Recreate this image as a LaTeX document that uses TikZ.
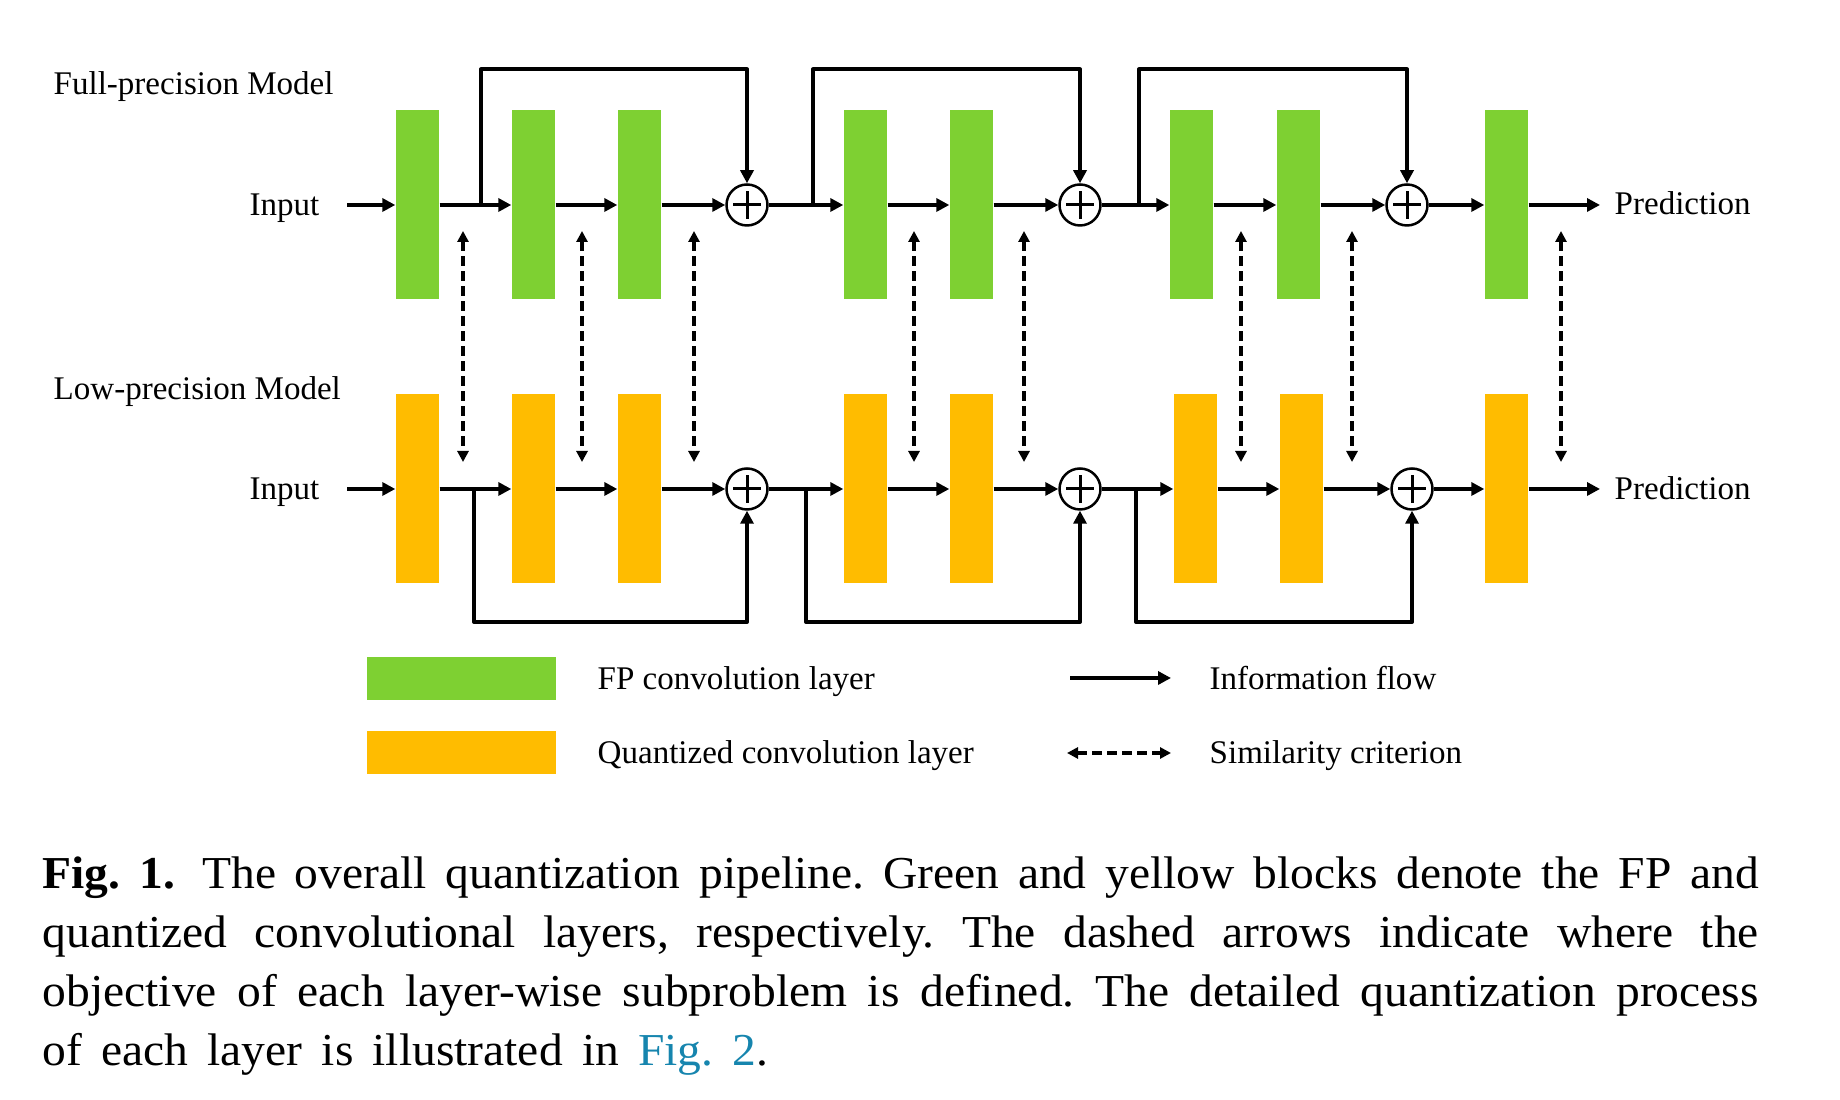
\documentclass[tikz,border=0pt]{standalone}
\usepackage{fontspec}
\setmainfont{Liberation Serif}
\newfontfamily\capfont[FakeStretch=1.04]{Liberation Serif}
\usetikzlibrary{arrows.meta}
\definecolor{fpgreen}{RGB}{126,208,50}
\definecolor{qyellow}{RGB}{255,188,0}
\definecolor{figblue}{RGB}{22,133,174}
\begin{document}
\begin{tikzpicture}[x=0.1mm, y=-0.1mm, line join=round, font=\fontsize{9.4}{11}\selectfont,
	fp/.style={fill=fpgreen, minimum width=4.3mm, minimum height=18.9mm, inner sep=0},
	qt/.style={fp, fill=qyellow},
	add/.style={circle, draw, line width=0.25mm, minimum size=4.1mm, inner sep=0,
		path picture={\draw[line width=0.3mm] ([xshift=-1.4mm]path picture bounding box.center) -- ([xshift=1.4mm]path picture bounding box.center)
			([yshift=-1.4mm]path picture bounding box.center) -- ([yshift=1.4mm]path picture bounding box.center);}},
	flow/.style={line width=0.4mm, -{Triangle[length=1.3mm,width=1.3mm]}},
	sim/.style={line width=0.33mm, dash pattern=on 1mm off 0.5mm, {Triangle[length=1.1mm,width=1.1mm]}-{Triangle[length=1.1mm,width=1.1mm]}},
	lbl/.style={inner sep=0}]
	\useasboundingbox (0,0) rectangle (1840,1100);
	\def\yt{205} \def\yb{489} % hai hang
	% full-precision
	\foreach \n/\x in {1/417.5,2/533.5,3/639.5,4/865.5,5/971.5,6/1191.5,7/1298.5,8/1506.5}
		\node[fp] (g\n) at (\x,\yt) {};
	\foreach \n/\x in {1/747,2/1080,3/1407} \node[add] (a\n) at (\x,\yt) {};
	% low-precision
	\foreach \n/\x in {1/417.5,2/533.5,3/639.5,4/865.5,5/971.5,6/1195.5,7/1301.5,8/1506.5}
		\node[qt] (q\n) at (\x,\yb) {};
	\foreach \n/\x in {1/747,2/1080,3/1412} \node[add] (b\n) at (\x,\yb) {};
	
	\node[lbl, anchor=base west] (fpm) at (53,95) {Full-precision Model};
	\node[lbl, anchor=base west] (lpm) at (53,400) {Low-precision Model};
	\node[lbl, anchor=base east] (in1) at (320,216) {Input};
	\node[lbl, anchor=base east] (in2) at (320,500) {Input};
	\node[lbl, anchor=base west] (pr1) at (1614,215) {Prediction};
	\node[lbl, anchor=base west] (pr2) at (1614,500) {Prediction};
	
	\draw[flow] ([xshift=2.7mm]in1.east |- g1) -- (g1);
	\draw[flow] ([xshift=2.7mm]in2.east |- q1) -- (q1);
	\foreach \s/\t in {g1/g2,g2/g3,g3/a1,a1/g4,g4/g5,g5/a2,a2/g6,g6/g7,g7/a3,a3/g8,
		q1/q2,q2/q3,q3/b1,b1/q4,q4/q5,q5/b2,b2/q6,q6/q7,q7/b3,b3/q8}
		\draw[flow] (\s) -- (\t);
	\draw[flow] (g8) -- ([xshift=-1.4mm]pr1.west |- g8);
	\draw[flow] (q8) -- ([xshift=-1.4mm]pr2.west |- q8);
	% skip connections
	\foreach \x/\t in {481/a1,813/a2,1139/a3} {
		\coordinate (c) at (\x,\yt);
		\draw[flow] (c) -- (\x,69.5) -| (\t);}
	\foreach \x/\t in {474/b1,806/b2,1136/b3} {
		\coordinate (c) at (\x,\yb);
		\draw[flow] (c) -- (\x,622) -| (\t);}
	% similarity
	\foreach \x [count=\i] in {463,582,694,914,1024,1241,1352,1561} {
		\coordinate (u\i) at (\x,231); \coordinate (d\i) at (\x,462);
		\draw[sim] (u\i) -- (d\i);}
	
	% legend
	\node[fp, minimum width=18.9mm, minimum height=4.3mm] (lg) at (461.5,678.5) {};
	\node[qt, minimum width=18.9mm, minimum height=4.3mm] (ly) at (461.5,752.5) {};
	\node[lbl, anchor=base west] (tg) at (597,690) {FP convolution layer};
	\node[lbl, anchor=base west] (ty) at (597,764) {Quantized convolution layer};
	\coordinate (f1) at (1070,678); \coordinate (f2) at (1171,678);
	\coordinate (s1) at (1067,753); \coordinate (s2) at (1171,753);
	\draw[flow] (f1) -- (f2);
	\draw[sim] (s1) -- (s2);
	\node[lbl, anchor=base west] (tf) at (1209,690) {Information flow};
	\node[lbl, anchor=base west] (ts) at (1209,764) {Similarity criterion};
	
	\node[lbl, anchor=base west, text width=171.6mm, align=justify,
		font=\capfont\fontsize{13}{16.8}\selectfont] (cap) at (42,888.5)
	{\frenchspacing\spaceskip=0.42em plus 0.3em minus 0.1em\relax
		\textbf{Fig. 1.}\hspace{0.6em}The overall quantization pipeline. Green and yellow blocks denote the FP and\linebreak
		quantized convolutional layers, respectively. The dashed arrows indicate where the\linebreak
		objective of each layer-wise subproblem is defined. The detailed quantization process\linebreak
		of each layer is illustrated in \textcolor{figblue}{Fig.~2}.};
\end{tikzpicture}
\end{document}
